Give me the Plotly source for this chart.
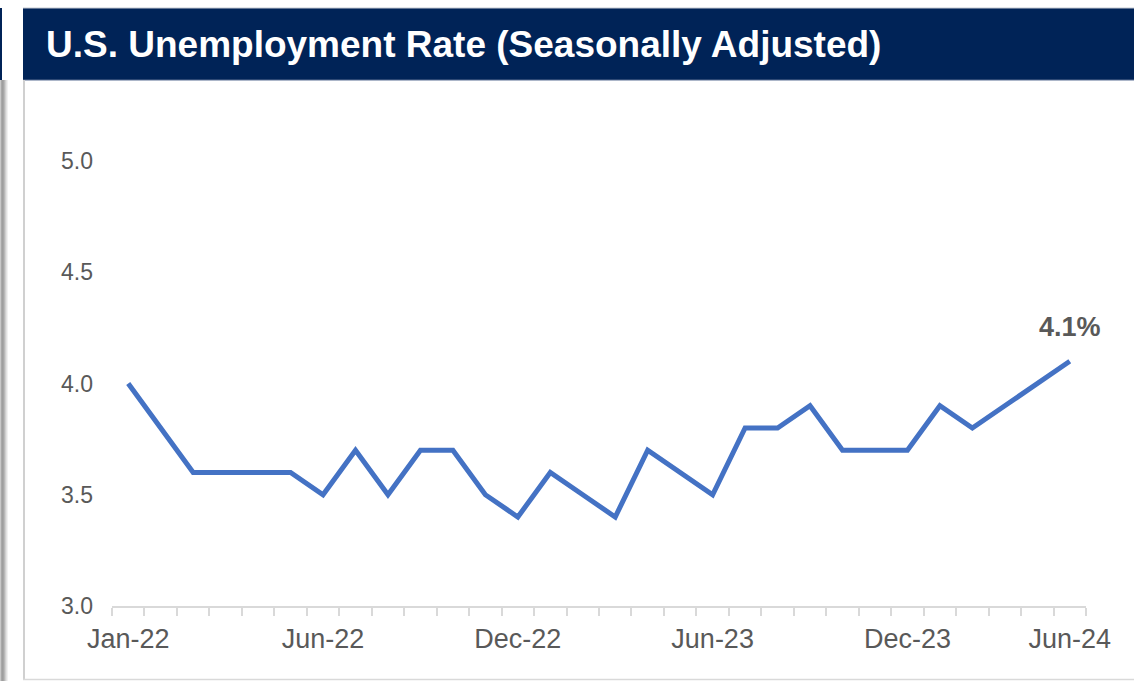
import plotly.graph_objects as go

# ---- data ----
months = ["Jan-22", "Feb-22", "Mar-22", "Apr-22", "May-22", "Jun-22", "Jul-22", "Aug-22", "Sep-22", "Oct-22",
          "Nov-22", "Dec-22", "Jan-23", "Feb-23", "Mar-23", "Apr-23", "May-23", "Jun-23", "Jul-23", "Aug-23",
          "Sep-23", "Oct-23", "Nov-23", "Dec-23", "Jan-24", "Feb-24", "Mar-24", "Apr-24", "May-24", "Jun-24"]
rate = [4.0, 3.8, 3.6, 3.6, 3.6, 3.6, 3.5, 3.7, 3.5, 3.7,
        3.7, 3.5, 3.4, 3.6, 3.5, 3.4, 3.7, 3.6, 3.5, 3.8,
        3.8, 3.9, 3.7, 3.7, 3.7, 3.9, 3.8, 3.9, 4.0, 4.1]
tick_positions = [0, 6, 12, 18, 24, 29]
tick_labels = ["Jan-22", "Jun-22", "Dec-22", "Jun-23", "Dec-23", "Jun-24"]
y_ticks = [3.0, 3.5, 4.0, 4.5, 5.0]
title_text = "U.S. Unemployment Rate (Seasonally Adjusted)"
last_label = "4.1%"

W, H = 1134, 681
L, R, T, B = 112, 1086, 161, 606  # plot area pixel box

def px(x):
    return (x - L) / (R - L)

def py(y):
    return (B - y) / (B - T)

idx = list(range(len(months)))

fig = go.Figure()
fig.add_trace(go.Scatter(
    x=idx, y=rate, mode="lines",
    line=dict(color="#4472C4", width=5),
    customdata=months, hovertemplate="%{customdata}: %{y:.1f}%<extra></extra>",
    showlegend=False,
))

NAVY = "#002357"
shapes = []
# title bar
shapes.append(dict(type="rect", xref="paper", yref="paper", x0=px(23), x1=px(W), y0=py(80), y1=py(8),
                   fillcolor=NAVY, line=dict(width=0), layer="below"))
shapes.append(dict(type="line", xref="paper", yref="paper", x0=px(23), x1=px(W), y0=py(8), y1=py(8),
                   line=dict(color="#c5cad3", width=1)))
shapes.append(dict(type="line", xref="paper", yref="paper", x0=px(23), x1=px(W), y0=py(80), y1=py(80),
                   line=dict(color="#5b6f93", width=1)))
# left navy sliver
shapes.append(dict(type="rect", xref="paper", yref="paper", x0=px(0), x1=px(2), y0=py(80), y1=py(8),
                   fillcolor=NAVY, line=dict(width=0)))
# left shadow gradient
grad = [(0, "#c8c8c8"), (1, "#a8a8a8"), (2, "#9e9e9e"), (3, "#a6a6a6"), (4, "#b8b8b8"),
        (5, "#cfcfcf"), (6, "#e2e2e2"), (7, "#f1f1f1")]
for gx, gc in grad:
    shapes.append(dict(type="rect", xref="paper", yref="paper", x0=px(gx), x1=px(gx + 1), y0=py(H), y1=py(80),
                       fillcolor=gc, line=dict(width=0)))
# panel borders
shapes.append(dict(type="line", xref="paper", yref="paper", x0=px(24), x1=px(24), y0=py(80), y1=py(680),
                   line=dict(color="#d0d0d0", width=2)))
shapes.append(dict(type="line", xref="paper", yref="paper", x0=px(23), x1=px(W), y0=py(679.5), y1=py(679.5),
                   line=dict(color="#d9d9d9", width=1.5)))

annotations = [
    dict(text="<b>" + title_text + "</b>", xref="paper", yref="paper", x=px(44), y=py(45), xanchor="left",
         yanchor="middle", showarrow=False,
         font=dict(family="Liberation Sans, Arial, sans-serif", size=37, color="white")),
    dict(text="<b>" + last_label + "</b>", x=idx[-1], y=rate[-1], xref="x", yref="y", xanchor="center",
         yanchor="middle", yshift=34, showarrow=False,
         font=dict(family="Liberation Sans, Arial, sans-serif", size=27, color="#595959")),
]

fig.update_layout(
    width=W, height=H,
    margin=dict(l=L, r=W - R, t=T, b=H - B, pad=0),
    paper_bgcolor="white", plot_bgcolor="white",
    shapes=shapes, annotations=annotations,
    font=dict(family="Liberation Sans, Arial, sans-serif", color="#595959"),
    xaxis=dict(
        range=[-0.5, len(months) - 0.5], showgrid=False, zeroline=False,
        showline=True, linecolor="#d9d9d9", linewidth=1.5,
        tickmode="array", tickvals=tick_positions, ticktext=tick_labels,
        ticks="outside", ticklen=8, tickcolor="rgba(0,0,0,0)",
        tickfont=dict(size=27, color="#595959"),
        minor=dict(tick0=-0.5, dtick=1, ticks="outside", ticklen=8, tickcolor="#d9d9d9", tickwidth=1.5,
                   showgrid=False),
        fixedrange=True,
    ),
    yaxis=dict(
        range=[3.0, 5.0], showgrid=False, zeroline=False, showline=False,
        tickmode="array", tickvals=y_ticks, tickformat=".1f",
        tickfont=dict(size=23, color="#595959"), ticklabelstandoff=18,
        fixedrange=True,
    ),
)

fig.write_html("out.html", config={"displayModeBar": False},
               post_script="document.body.style.margin='0';document.body.style.overflow='hidden';")
